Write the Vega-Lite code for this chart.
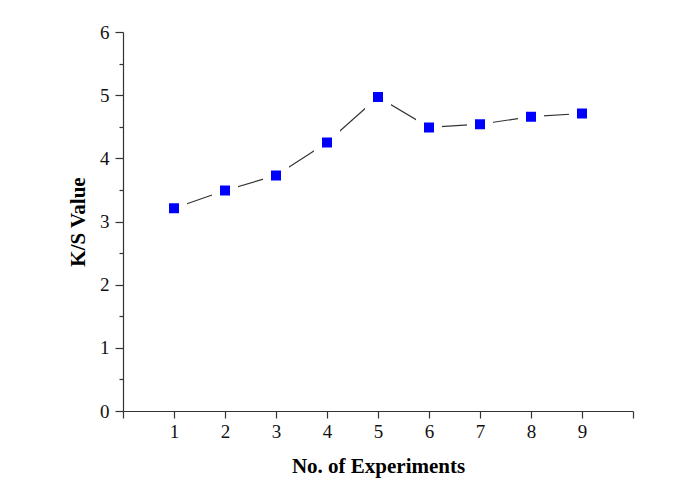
{
  "$schema": "https://vega.github.io/schema/vega-lite/v6.json",
  "width": 510,
  "height": 379,
  "autosize": {"type": "none"},
  "padding": {"left": 123, "top": 32, "right": 51, "bottom": 68},
  "background": "white",
  "config": {
    "view": {"stroke": null},
    "font": "Liberation Serif",
    "axis": {
      "grid": false,
      "domainColor": "#333333",
      "tickColor": "#333333",
      "domainWidth": 1.2,
      "tickWidth": 1.2,
      "labelColor": "#111111",
      "labelFont": "Liberation Serif",
      "labelFontSize": 19,
      "titleFont": "Liberation Serif",
      "titleFontSize": 21,
      "titleFontWeight": "bold",
      "titleColor": "#000000"
    }
  },
  "data": {
    "values": [
      {"exp": 1, "ks": 3.21},
      {"exp": 2, "ks": 3.49},
      {"exp": 3, "ks": 3.73},
      {"exp": 4, "ks": 4.25},
      {"exp": 5, "ks": 4.97},
      {"exp": 6, "ks": 4.49},
      {"exp": 7, "ks": 4.54},
      {"exp": 8, "ks": 4.66},
      {"exp": 9, "ks": 4.71}
    ]
  },
  "encoding": {
    "x": {
      "field": "exp",
      "type": "quantitative",
      "scale": {"domain": [0, 10], "nice": false, "zero": false},
      "axis": {
        "title": "No. of Experiments",
        "values": [0, 1, 2, 3, 4, 5, 6, 7, 8, 9, 10],
        "labelExpr": "datum.value >= 1 && datum.value <= 9 ? format(datum.value, 'd') : ''",
        "tickSize": 7,
        "labelPadding": 4,
        "titlePadding": 14,
        "labelFlush": false
      }
    },
    "y": {
      "field": "ks",
      "type": "quantitative",
      "scale": {"domain": [0, 6], "nice": false},
      "axis": {
        "title": "K/S Value",
        "values": [0, 0.5, 1, 1.5, 2, 2.5, 3, 3.5, 4, 4.5, 5, 5.5, 6],
        "labelExpr": "datum.value % 1 === 0 ? format(datum.value, 'd') : ''",
        "tickSize": {"condition": {"test": "datum.value % 1 !== 0", "value": 4}, "value": 8},
        "labelPadding": 6,
        "titlePadding": 11,
        "labelFlush": false
      }
    }
  },
  "layer": [
    {
      "mark": {"type": "line", "color": "#333333", "strokeWidth": 1.2}
    },
    {
      "mark": {
        "type": "point",
        "shape": "square",
        "filled": true,
        "fill": "#0000FF",
        "fillOpacity": 1,
        "stroke": "white",
        "strokeWidth": 8,
        "strokeOpacity": 1,
        "size": 324
      }
    }
  ]
}
